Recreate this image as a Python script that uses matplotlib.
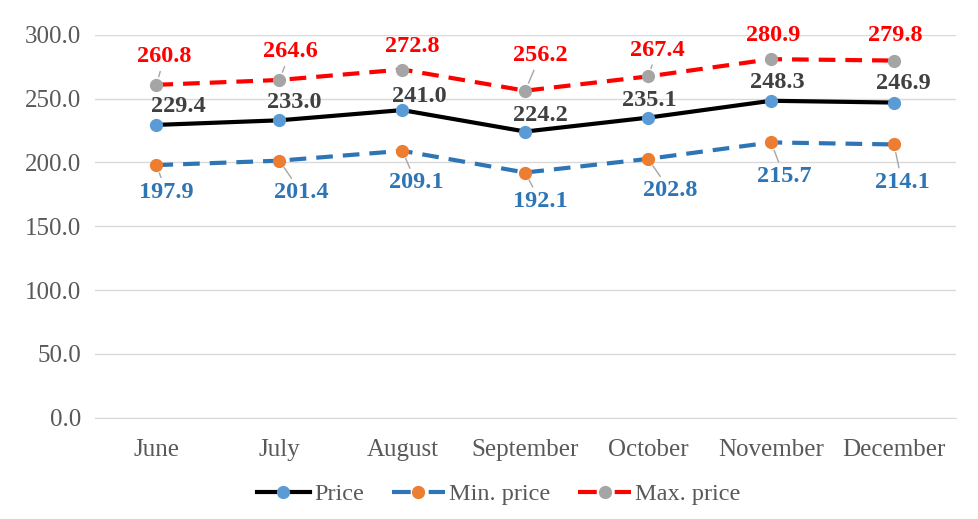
import matplotlib.pyplot as plt
from matplotlib.lines import Line2D

months = ['June', 'July', 'August', 'September', 'October', 'November', 'December']
price = [229.4, 233.0, 241.0, 224.2, 235.1, 248.3, 246.9]
min_price = [197.9, 201.4, 209.1, 192.1, 202.8, 215.7, 214.1]
max_price = [260.8, 264.6, 272.8, 256.2, 267.4, 280.9, 279.8]
yticks = [0, 50, 100, 150, 200, 250, 300]

plt.rcParams['font.family'] = ['Liberation Serif', 'DejaVu Serif']

fig = plt.figure(figsize=(9.79, 5.19), dpi=100)
ax = fig.add_axes([0.097, 0.195, 0.879, 0.738])

x = list(range(len(months)))
dash = (4, 2.4)

ax.plot(x, price, color='black', lw=3, marker='o', ms=8.5,
        mfc='#5B9BD5', mec='#5B9BD5', zorder=3)
ax.plot(x, min_price, color='#2E75B6', lw=3, marker='o', ms=8.5,
        mfc='#ED7D31', mec='#ED7D31', dashes=dash, zorder=3)
ax.plot(x, max_price, color='#FF0000', lw=3, marker='o', ms=8.5,
        mfc='#A5A5A5', mec='#A5A5A5', dashes=dash, zorder=3)

lbl = dict(fontsize=17.5, fontweight='bold', ha='center', va='center',
           textcoords='offset pixels')
guia = dict(arrowstyle='-', color='#A5A5A5', lw=1, shrinkA=1, shrinkB=6)

# desplazamiento de cada etiqueta (en pixeles) respecto a su punto
off_price = [(22, 18), (15, 18), (17, 14), (15, 16), (1, 17), (6, 18), (9, 19)]
off_min = [(10, -27), (22, -32), (14, -32), (15, -29), (22, -32), (13, -34), (8, -38)]
off_max = [(8, 28), (11, 28), (10, 23), (15, 35), (9, 26), (2, 24), (1, 25)]
guia_max = [True, True, False, True, True, False, False]

for i, v in enumerate(price):
    ax.annotate(f'{v:.1f}', (i, v), xytext=off_price[i], color='#404040', **lbl)

for i, v in enumerate(min_price):
    ax.annotate(f'{v:.1f}', (i, v), xytext=off_min[i], color='#2E75B6',
                arrowprops=guia, **lbl)

for i, v in enumerate(max_price):
    ax.annotate(f'{v:.1f}', (i, v), xytext=off_max[i], color='#FF0000',
                arrowprops=guia if guia_max[i] else None, **lbl)

ax.set_xlim(-0.5, len(months) - 0.5)
ax.set_ylim(0, 300)
ax.set_yticks(yticks)
ax.set_yticklabels([f'{t:.1f}' for t in yticks])
ax.set_xticks(x)
ax.set_xticklabels(months)
ax.tick_params(axis='both', length=0, labelsize=18, colors='#595959', pad=10)
ax.tick_params(axis='x', pad=15)
ax.grid(axis='y', color='#D9D9D9', lw=1)
ax.set_axisbelow(True)
for s in ['top', 'right', 'left']:
    ax.spines[s].set_visible(False)
ax.spines['bottom'].set_color('#D9D9D9')

# leyenda con guiones cortos alrededor del marcador
handles = [
    Line2D([], [], color='black', lw=3, marker='o', ms=8.5, mfc='#5B9BD5', mec='#5B9BD5'),
    Line2D([], [], color='#2E75B6', lw=3, marker='o', ms=8.5, mfc='#ED7D31', mec='#ED7D31',
           dashes=(4.5, 4.3)),
    Line2D([], [], color='#FF0000', lw=3, marker='o', ms=8.5, mfc='#A5A5A5', mec='#A5A5A5',
           dashes=(4.5, 4.3)),
]
leg = ax.legend(handles, ['Price', 'Min. price', 'Max. price'], loc='center',
                bbox_to_anchor=(0.469, -0.2), ncol=3, frameon=False, fontsize=17.5,
                handlelength=2.2, numpoints=1, columnspacing=1.15, handletextpad=0.15)
for t in leg.get_texts():
    t.set_color('#595959')

fig.savefig('out.png', dpi=100)
